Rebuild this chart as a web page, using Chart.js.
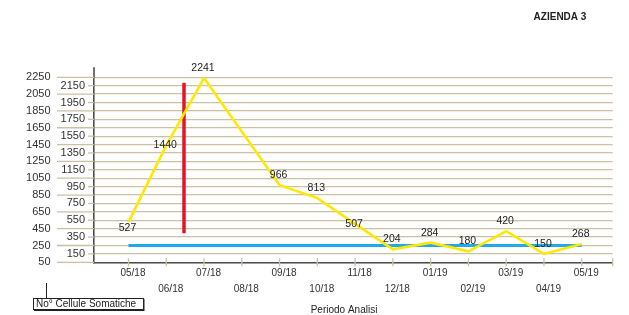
<!DOCTYPE html>
<html>
<head>
<meta charset="utf-8">
<script src="https://cdn.jsdelivr.net/npm/chart.js@4.4.1/dist/chart.umd.min.js"></script>
<style>
  html, body { margin: 0; padding: 0; background: #fff; }
  canvas { display: block; }
</style>
</head>
<body>
<canvas id="cellChart" width="629" height="315"></canvas>
<script>

// data
const months = ["05/18","06/18","07/18","08/18","09/18","10/18","11/18","12/18","01/19","02/19","03/19","04/19","05/19"];
const cellCounts = [527, 1440, 2241, null, 966, 813, 507, 204, 284, 180, 420, 150, 268];
const labelPlacement = ["below","center","above",null,"above","above","center","above","above","above","above","above","above"];
const threshold = 250;
const cutoffX = 1.47;
const cutoffRange = [395, 2185];
const yTickValues = [50,150,250,350,450,550,650,750,850,950,1050,1150,1250,1350,1450,1550,1650,1750,1850,1950,2050,2150,2250];

const gridColor = "rgb(206,192,163)";
const font = "\"Liberation Sans\", Arial, sans-serif";

const decor = {

    id: "decor",

    afterDatasetsDraw(chart){

        const ctx = chart.ctx;
        const meta = chart.getDatasetMeta(2);

        ctx.save();
        ctx.font = "10.5px " + font;
        ctx.fillStyle = "#222";
        ctx.textAlign = "center";
        ctx.textBaseline = "middle";

        meta.data.forEach((pt, i) => {
            if (cellCounts[i] === null) return;
            let dy = -10;
            if (labelPlacement[i] === "below") dy = 6;
            if (labelPlacement[i] === "center") dy = 0;
            ctx.fillText(String(cellCounts[i]), pt.x - 1, pt.y + dy);
        });

        ctx.restore();
    },

    afterDraw(chart){

        const ctx = chart.ctx;
        const a = chart.chartArea;
        const x = chart.scales.x;
        const y = chart.scales.y;

        ctx.save();

        // y axis runs a little past the top gridline
        ctx.strokeStyle = "#4d4d4d";
        ctx.lineWidth = 1.6;
        ctx.beginPath();
        ctx.moveTo(a.left, a.top);
        ctx.lineTo(a.left, a.top - 10);
        ctx.stroke();

        // staggered y labels with leader lines
        ctx.font = "11px " + font;
        ctx.fillStyle = "#333";
        ctx.textAlign = "right";
        ctx.textBaseline = "middle";
        ctx.strokeStyle = gridColor;
        ctx.lineWidth = 1.3;

        yTickValues.forEach((v, i) => {
            const py = y.getPixelForValue(v);
            const outer = i % 2 === 0;
            ctx.beginPath();
            ctx.moveTo(outer ? 57 : 88, py);
            ctx.lineTo(a.left, py);
            ctx.stroke();
            ctx.fillText(String(v), outer ? 50.5 : 85, py);
        });

        // x tick marks crossing the axis
        const tickPos = months.map((m, i) => x.getPixelForValue(i));
        tickPos.push(a.right);
        tickPos.forEach(px => {
            ctx.beginPath();
            ctx.moveTo(px, a.bottom - 4);
            ctx.lineTo(px, a.bottom + 4);
            ctx.stroke();
        });

        // staggered x labels
        ctx.font = "10px " + font;
        ctx.fillStyle = "#333";
        ctx.textAlign = "center";
        months.forEach((m, i) => {
            const px = x.getPixelForValue(i) + 4.5;
            ctx.fillText(m, px, i % 2 === 0 ? a.bottom + 11 : a.bottom + 26.5);
        });

        ctx.fillStyle = "#222";
        ctx.fillText("Periodo Analisi", 344, 310);

        // series name box
        ctx.strokeStyle = "#222";
        ctx.lineWidth = 1;
        ctx.beginPath();
        ctx.moveTo(46.5, 283);
        ctx.lineTo(46.5, 298);
        ctx.stroke();
        ctx.fillStyle = "#fff";
        ctx.fillRect(33, 298, 111, 12);
        ctx.strokeRect(33.5, 298.5, 110, 11);
        ctx.fillStyle = "#222";
        ctx.fillRect(143, 299, 1.5, 12);
        ctx.fillRect(34, 309.5, 110, 1.5);
        ctx.textAlign = "left";
        ctx.fillText("No\u00b0 Cellule Somatiche", 36, 304.5);

        // title
        ctx.font = "bold 10px " + font;
        ctx.textAlign = "center";
        ctx.fillText("AZIENDA 3", 560, 17);

        ctx.restore();
    }
};

const ctx = document.getElementById("cellChart");

new Chart(ctx, {

    type: "line",

    data: {

        datasets: [

            {
                label: "Soglia",
                data: [
                    { x: 0, y: threshold },
                    { x: months.length - 1, y: threshold }
                ],
                borderColor: "rgb(32,170,236)",
                borderWidth: 2.8,
                pointRadius: 0,
                order: 3
            },

            {
                label: "Riferimento",
                data: [
                    { x: cutoffX, y: cutoffRange[0] },
                    { x: cutoffX, y: cutoffRange[1] }
                ],
                borderColor: "rgb(228,22,38)",
                borderWidth: 3.5,
                pointRadius: 0,
                order: 2
            },

            {
                label: "No\u00b0 Cellule Somatiche",
                data: cellCounts.map((v, i) => ({ x: i, y: v })),
                borderColor: "rgb(255,232,0)",
                borderWidth: 2.6,
                pointRadius: 0,
                tension: 0,
                spanGaps: true,
                order: 1
            }

        ]

    },

    options: {

        responsive: false,

        animation: false,

        layout: {
            padding: { left: 94, right: 16.3, top: 77.3, bottom: 52.7 }
        },

        plugins: {
            legend: { display: false },
            tooltip: { enabled: false }
        },

        scales: {

            x: {
                type: "linear",
                min: -0.913,
                max: 12.82,
                ticks: { display: false },
                grid: { display: false, drawTicks: false },
                border: { display: true, color: "#4d4d4d", width: 1.6 }
            },

            y: {
                type: "linear",
                min: 50,
                max: 2250,
                afterBuildTicks(scale){
                    scale.ticks = yTickValues.map(v => ({ value: v }));
                },
                ticks: { display: false },
                grid: { color: gridColor, lineWidth: 1.3, drawTicks: false },
                border: { display: true, color: "#4d4d4d", width: 1.6 }
            }

        }

    },

    plugins: [decor]

});

</script>
</body>
</html>
